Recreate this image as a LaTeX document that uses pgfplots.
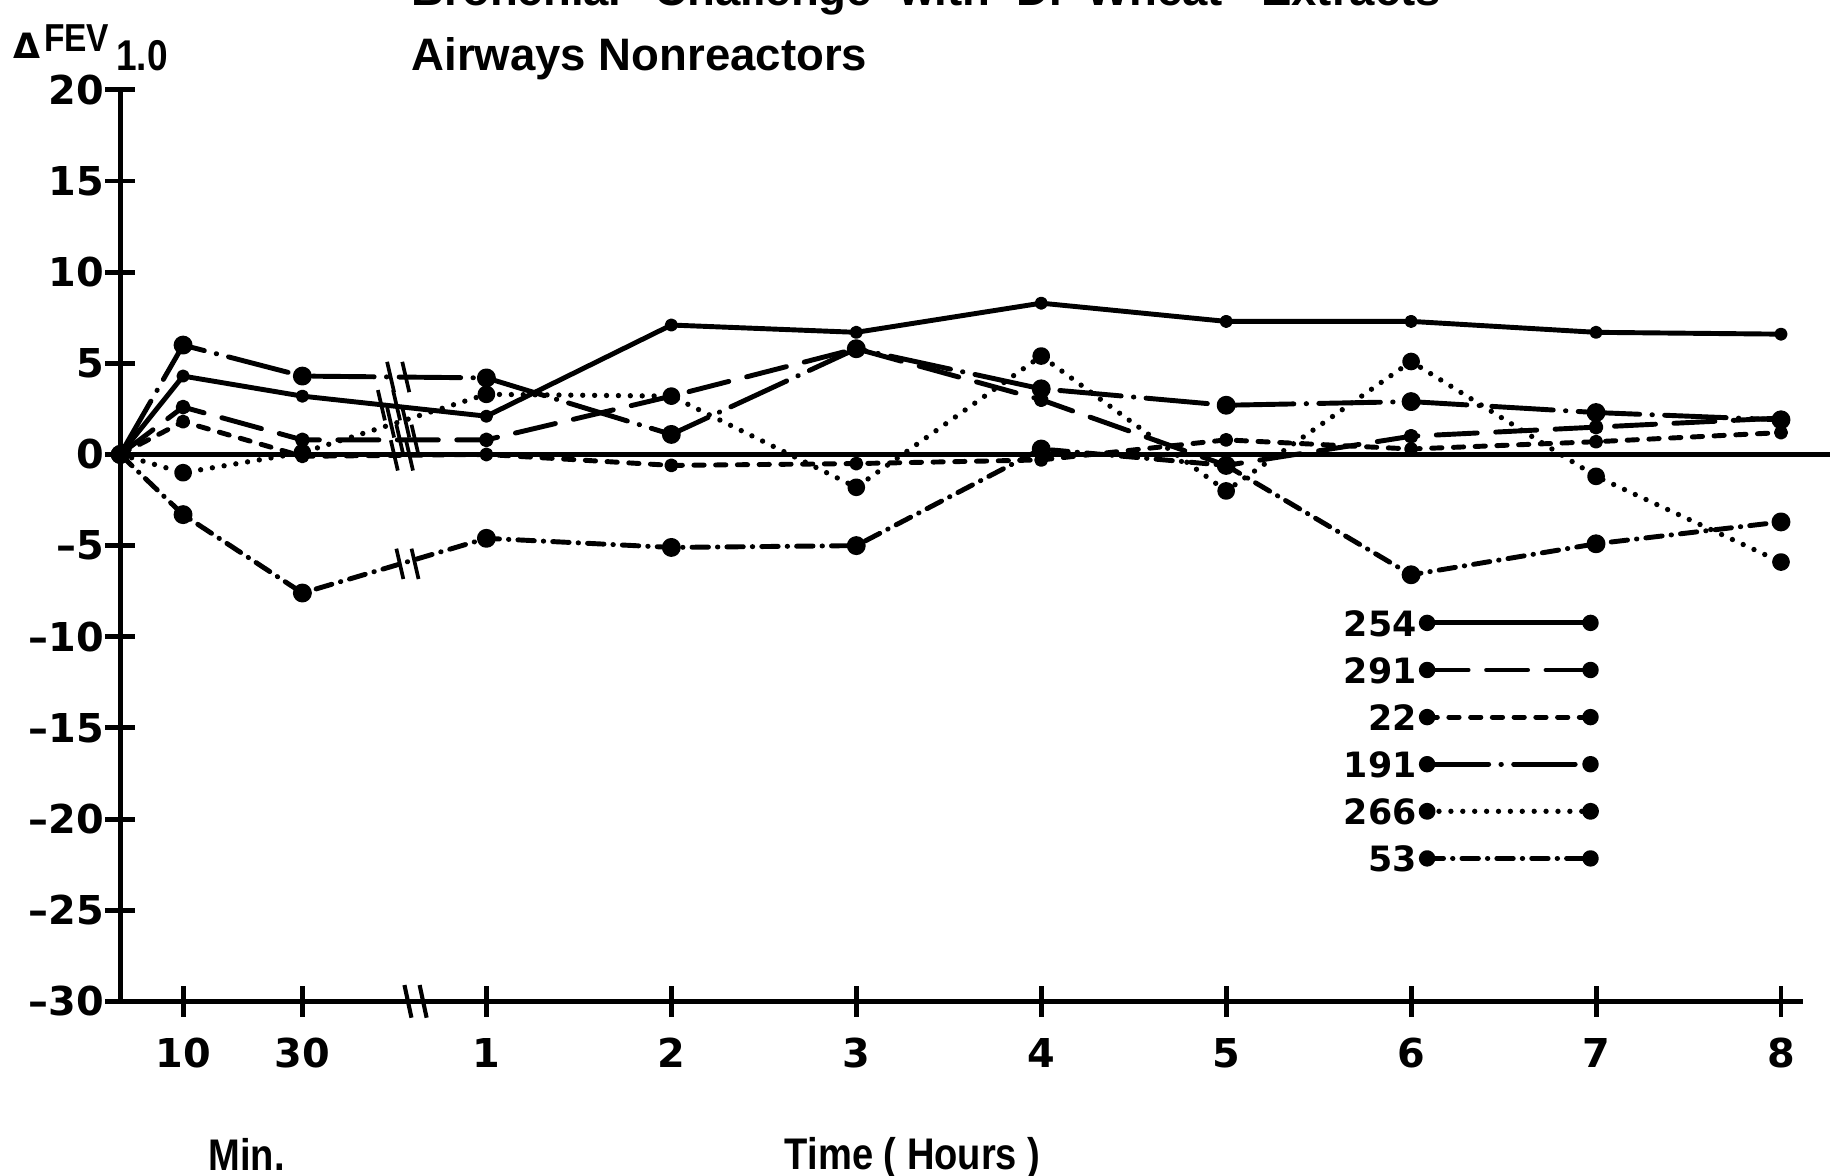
\documentclass[border=0pt]{standalone}
\usepackage{pgfplots}
\usepackage{pgfplotstable}
\pgfplotsset{compat=1.18}
\usepackage{fontspec}
\setmainfont{Liberation Sans}
\newfontfamily\tickfont{DejaVu Sans}
\newfontfamily\labfont[FakeStretch=0.86]{Liberation Sans}

\pgfplotstableread{
x      s254  s291  s22   s191  s266  s53
0      0     0     0     0     0     0
0.34   4.3   2.6   1.8   6.0   -1.0  -3.3
0.985  3.2   0.8   -0.1  4.3   0.1   -7.6
1.98   2.1   0.8   0.0   4.2   3.3   -4.6
2.98   7.1   3.2   -0.6  1.1   3.2   -5.1
3.98   6.7   5.8   -0.5  5.8   -1.8  -5.0
4.98   8.3   3.0   -0.3  3.6   5.4   0.3
5.98   7.3   -0.6  0.8   2.7   -2.0  -0.6
6.98   7.3   1.0   0.3   2.9   5.1   -6.6
7.98   6.7   1.5   0.7   2.3   -1.2  -4.9
8.98   6.6   2.0   1.2   1.9   -5.9  -3.7
}\data

\begin{document}
\begin{tikzpicture}
\useasboundingbox (-1.03cm,-1.49cm) rectangle (14.65cm,8.58cm);
\clip (-1.03cm,-1.49cm) rectangle (14.65cm,8.58cm);
\begin{axis}[
  at={(0,0)}, anchor=south west,
  scale only axis, width=14.42cm, height=7.81cm,
  xmin=0, xmax=9.1, ymin=-30, ymax=20,
  axis x line=bottom, axis y line=left,
  axis line style={-, line width=1.2pt},
  xtick={0.34,0.985,1.98,2.98,3.98,4.98,5.98,6.98,7.98,8.98},
  xticklabels={10,30,1,2,3,4,5,6,7,8},
  ytick={-30,-25,...,20},
  yticklabels={–30,–25,–20,–15,–10,–5,0,5,10,15,20},
  tick align=center,
  major tick length=2.6mm,
  every tick/.style={line width=1.2pt, black},
  tick label style={font=\tickfont\bfseries\fontsize{9.7}{10}\selectfont, inner sep=0pt},
  yticklabel style={anchor=east, xshift=-0.0cm},
  xticklabel style={anchor=north, yshift=-0.18cm},
  clip=false,
  legend image code/.code={
    \draw[#1] (0cm,0cm) -- (1.4cm,0cm);
    \fill[solid, black] (0cm,0cm) circle (1.4pt);
    \fill[solid, black] (1.4cm,0cm) circle (1.4pt);
  },
  legend plot pos=right,
  legend cell align=right,
  legend style={draw=none, fill=none, inner sep=0pt,
    at={(axis cs:8.0,-8.35)}, anchor=north east,
    font=\tickfont\bfseries\fontsize{8.5}{9}\selectfont,
    nodes={inner sep=0.5pt, text height=6.5pt, text depth=0pt},
    row sep=0.14cm,
    /tikz/every even column/.append style={column sep=0.11cm}},
]
\draw[line width=1.2pt] (axis cs:0,0) -- (axis cs:9.4,0);

\addplot[black, line width=1.2pt, line join=round, mark=*, mark size=1pt] table[x=x,y=s254]{\data};
\addlegendentry{254}
\addplot[black, line width=1.2pt, line join=round, line cap=round, dash pattern=on 10pt off 4.5pt, mark=*, mark size=1.2pt, mark options={solid}] table[x=x,y=s291]{\data};
\addlegendentry{291}
\addplot[black, line width=1.2pt, line join=round, line cap=round, dash pattern=on 2.5pt off 2.8pt, mark=*, mark size=1.1pt, mark options={solid}] table[x=x,y=s22]{\data};
\addlegendentry{22}
\addplot[black, line width=1.2pt, line join=round, line cap=round, dash pattern=on 15pt off 3pt on 0.1pt off 3pt, mark=*, mark size=1.7pt, mark options={solid}] table[x=x,y=s191]{\data};
\addlegendentry{191}
\addplot[black, line width=1.3pt, line join=round, line cap=round, dash pattern=on 0pt off 2.9pt, mark=*, mark size=1.5pt, mark options={solid}] table[x=x,y=s266]{\data};
\addlegendentry{266}
\addplot[black, line width=1.2pt, line join=round, line cap=round, dash pattern=on 4pt off 2.2pt on 0.1pt off 2.2pt, mark=*, mark size=1.7pt, mark options={solid}] table[x=x,y=s53]{\data};
\addlegendentry{53}

% break marks on the lines
\draw[line width=0.9pt, shift={(axis cs:1.5,4.25)}] (-0.09cm,0.13cm) -- (-0.03cm,-0.13cm) (0.04cm,0.13cm) -- (0.10cm,-0.13cm);
\draw[line width=0.9pt, shift={(axis cs:1.45,2.7)}] (-0.09cm,0.13cm) -- (-0.03cm,-0.13cm) (0.04cm,0.13cm) -- (0.10cm,-0.13cm);
\draw[line width=0.9pt, shift={(axis cs:1.5,1.76)}] (-0.09cm,0.13cm) -- (-0.03cm,-0.13cm) (0.04cm,0.13cm) -- (0.10cm,-0.13cm);
\draw[line width=0.9pt, shift={(axis cs:1.55,0.8)}] (-0.09cm,0.13cm) -- (-0.03cm,-0.13cm) (0.04cm,0.13cm) -- (0.10cm,-0.13cm);
\draw[line width=0.9pt, shift={(axis cs:1.52,-0.05)}] (-0.09cm,0.13cm) -- (-0.03cm,-0.13cm) (0.04cm,0.13cm) -- (0.10cm,-0.13cm);
\draw[line width=0.9pt, shift={(axis cs:1.55,-6.0)}] (-0.09cm,0.13cm) -- (-0.03cm,-0.13cm) (0.04cm,0.13cm) -- (0.10cm,-0.13cm);
% break on the x axis
\draw[line width=1pt, shift={(axis cs:1.6,-30)}] (-0.10cm,0.14cm) -- (-0.04cm,-0.14cm) (0.03cm,0.14cm) -- (0.09cm,-0.14cm);
\end{axis}

% labels
\node[anchor=base west, inner sep=0pt, font=\labfont\bfseries\fontsize{10.8}{12}\selectfont] at (0.75cm,-1.45cm) {Min.};
\node[anchor=base, inner sep=0pt, font=\labfont\bfseries\fontsize{10.8}{12}\selectfont] at (6.79cm,-1.44cm) {Time ( Hours )};
% y label
\node[anchor=base west, inner sep=0pt, font=\tickfont\bfseries\fontsize{8.5}{9}\selectfont] at (-0.92cm,8.08cm) {Δ};
\node[anchor=base west, inner sep=0pt, font=\labfont\bfseries\fontsize{9.5}{10}\selectfont] at (-0.66cm,8.14cm) {FEV};
\node[anchor=base west, inner sep=0pt, font=\labfont\bfseries\fontsize{10.5}{11}\selectfont] at (-0.04cm,7.98cm) {1.0};
% title
\begin{scope}[every node/.style={anchor=base west, inner sep=0pt, font=\bfseries\fontsize{11.1}{12}\selectfont}]
\node at (2.49cm,7.98cm) {Airways Nonreactors};
\node at (2.49cm,8.53cm) {Bronchial};
\node at (4.57cm,8.53cm) {Challenge};
\node at (6.67cm,8.53cm) {with};
\node at (7.67cm,8.53cm) {D.};
\node at (8.27cm,8.53cm) {Wheat};
\node at (9.77cm,8.53cm) {Extracts};
\end{scope}
\end{tikzpicture}
\end{document}
